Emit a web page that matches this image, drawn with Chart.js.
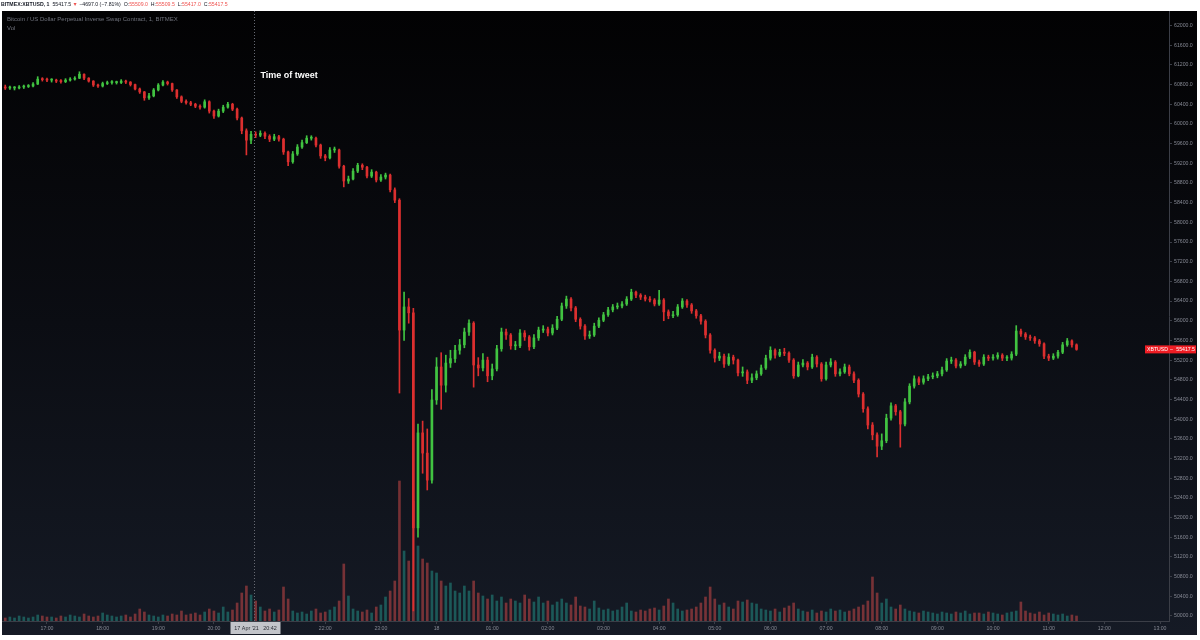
<!DOCTYPE html>
<html>
<head>
<meta charset="utf-8">
<script src="https://cdn.jsdelivr.net/npm/chart.js@4.4.1/dist/chart.umd.min.js"></script>
<style>
  html, body { margin: 0; padding: 0; background: #fff; }
  #wrap { position: relative; width: 1200px; height: 640px; overflow: hidden; }
  #chart { position: absolute; left: 0; top: 0; }
  .tiny { position: absolute; transform: scale(0.5); transform-origin: 0 0; white-space: nowrap;
          font-family: "Liberation Sans", Arial, sans-serif; }
  #hdr { left: 1px; top: 0px; font-size: 10.4px; line-height: 18px; color: #131722; }
  #hdr b { font-weight: bold; }
  #hdr .r { color: #ef5350; }
  #legend { left: 7px; top: 14px; font-size: 12px; line-height: 18px; color: #6f727c; }
</style>
</head>
<body>
<div id="wrap">
  <canvas id="chart" width="1200" height="640"></canvas>
  <div id="hdr" class="tiny"><b>BITMEX:XBTUSD, 1</b>&nbsp; 55417.5 <span class="r">▼</span> −4697.0 (−7.81%)&nbsp; O:<span class="r">55509.0</span>&nbsp; H:<span class="r">55509.5</span>&nbsp; L:<span class="r">55417.0</span>&nbsp; C:<span class="r">55417.5</span></div>
  <div id="legend" class="tiny">Bitcoin / US Dollar Perpetual Inverse Swap Contract, 1, BITMEX<br>Vol</div>
</div>
<script>
// minutes are counted from 17:00 on 17 Apr '21; one candle every 5 minutes from 16:15
const START_MIN = -45;
const STEP_MIN = 5;
const FIRST_OPEN = 60740;
const TWEET_MIN = 222; // 20:42
const TWEET_TEXT = 'Time of tweet';
const CROSS_TEXT = "17 Apr '21   20:42";
const SYMBOL = 'XBTUSD';

const closes = [
  60730,60730,60730,60750,60760,60770,60810,60910,60900,60890,
  60890,60870,60860,60890,60910,60930,61010,60930,60870,60790,
  60770,60820,60840,60840,60840,60870,60850,60800,60710,60650,
  60530,60570,60690,60790,60850,60820,60690,60550,60460,60430,
  60400,60360,60340,60450,60260,60160,60260,60340,60400,60300,
  60120,59860,59670,59790,59770,59810,59750,59690,59740,59690,
  59430,59230,59390,59530,59620,59710,59710,59570,59350,59310,
  59470,59470,59140,58840,58880,59040,59160,59120,58940,59020,
  58860,58920,58960,58660,58450,55810,56280,56160,51790,53720,
  53310,52760,54390,55060,54690,55140,55230,55400,55510,55770,
  55950,55100,55040,55200,54880,55020,55430,55770,55710,55490,
  55490,55750,55670,55470,55650,55810,55830,55750,55850,56030,
  56300,56440,56260,56030,55890,55690,55710,55890,56010,56120,
  56220,56280,56300,56340,56440,56580,56520,56480,56440,56420,
  56340,56420,56180,56100,56120,56280,56400,56320,56200,56100,
  55990,55710,55400,55240,55280,55120,55260,55200,54940,54960,
  54790,54840,54920,55040,55240,55400,55300,55360,55340,55200,
  54880,55100,55140,55060,55260,55120,54820,55100,55160,54920,
  54960,55060,54920,54790,54510,54210,53880,53680,53450,53560,
  54020,54270,54150,53900,54350,54670,54820,54750,54820,54860,
  54880,54920,55000,55180,55200,55080,55120,55260,55360,55160,
  55120,55260,55240,55260,55300,55240,55240,55320,55790,55730,
  55670,55650,55590,55530,55280,55240,55280,55360,55510,55590,
  55510,55417.5
];

const highs = [
  60790,60770,60760,60780,60790,60800,60840,60960,60940,60930,
  60920,60910,60900,60920,60940,60960,61060,61020,60940,60880,
  60810,60850,60870,60880,60870,60900,60890,60860,60810,60730,
  60660,60620,60720,60820,60880,60870,60830,60700,60570,60490,
  60460,60420,60390,60490,60470,60280,60300,60380,60440,60420,
  60320,60140,59900,59850,59840,59860,59840,59780,59790,59770,
  59710,59450,59440,59580,59670,59760,59760,59730,59590,59380,
  59520,59530,59490,59160,58940,59090,59200,59190,59140,59070,
  59040,58970,59000,58980,58700,58480,56580,56450,56250,53900,
  53960,53800,54600,55250,55350,55300,55400,55500,55620,55850,
  56020,55980,55250,55330,55260,55120,55500,55850,55830,55740,
  55580,55820,55800,55700,55720,55870,55900,55870,55920,56090,
  56360,56500,56470,56290,56060,55920,55790,55950,56060,56170,
  56270,56330,56360,56390,56490,56640,56600,56550,56520,56490,
  56450,56620,56450,56220,56190,56330,56450,56430,56350,56230,
  56130,56020,55740,55430,55360,55320,55330,55300,55220,55060,
  55000,54920,54980,55100,55300,55470,55430,55420,55440,55370,
  55230,55160,55210,55170,55320,55290,55150,55160,55230,55190,
  55020,55120,55100,54960,54820,54540,54250,53930,53720,53700,
  54100,54330,54300,54180,54420,54720,54880,54860,54880,54910,
  54940,54970,55060,55230,55260,55230,55170,55310,55410,55380,
  55200,55310,55300,55310,55350,55330,55290,55370,55900,55830,
  55760,55710,55680,55620,55550,55320,55330,55400,55560,55640,
  55610,55530
];

const lows = [
  60700,60700,60690,60710,60720,60740,60750,60800,60870,60860,
  60850,60840,60830,60840,60870,60890,60920,60900,60850,60760,
  60740,60750,60800,60810,60810,60820,60820,60770,60690,60620,
  60480,60500,60550,60670,60770,60790,60660,60520,60430,60400,
  60370,60330,60300,60320,60220,60110,60140,60230,60320,60270,
  60080,59800,59370,59600,59720,59740,59700,59640,59660,59650,
  59380,59150,59200,59360,59500,59600,59670,59530,59300,59250,
  59290,59420,59100,58720,58790,58860,59010,59070,58900,58910,
  58820,58830,58880,58620,58400,54530,55600,55950,50100,51600,
  52900,52560,52700,54300,54200,54550,55050,55150,55320,55450,
  55700,54650,54880,54980,54760,54800,54980,55380,55620,55420,
  55410,55450,55600,55400,55430,55600,55760,55690,55710,55820,
  56000,56250,56200,55980,55830,55620,55640,55680,55860,55980,
  56090,56180,56240,56260,56310,56410,56470,56430,56400,56380,
  56300,56310,56000,56040,56060,56090,56250,56270,56150,56050,
  55930,55650,55340,55160,55190,55050,55090,55120,54880,54870,
  54720,54740,54800,54890,55010,55200,55240,55270,55290,55150,
  54830,54860,55060,55000,55030,55060,54770,54790,55060,54870,
  54880,54930,54880,54740,54450,54140,53800,53580,53230,53380,
  53520,53980,54080,53430,53860,54310,54630,54700,54710,54780,
  54820,54840,54880,54970,55130,55040,55040,55090,55230,55110,
  55070,55090,55190,55200,55220,55190,55190,55200,55290,55680,
  55620,55600,55540,55480,55230,55190,55210,55240,55330,55480,
  55460,55400
];

// volume in millions of contracts
const volumes = [
  3,4,3,5,4,3,4,6,5,4,
  4,3,5,4,6,5,4,7,5,4,
  5,8,6,5,4,5,6,4,7,12,
  9,6,5,4,6,5,7,6,10,6,
  7,8,6,9,12,10,8,14,9,11,
  18,28,35,26,20,14,10,12,9,11,
  34,22,10,8,9,7,10,12,8,9,
  11,14,20,57,25,12,10,9,11,8,
  14,16,24,30,40,140,70,60,120,75,
  62,58,50,48,40,35,38,30,28,35,
  30,40,28,25,22,26,20,24,18,22,
  20,18,26,22,19,24,18,20,16,19,
  22,18,16,24,15,14,12,20,13,11,
  12,10,11,14,18,10,9,11,10,12,
  13,11,15,22,18,12,10,11,12,14,
  18,24,34,22,16,18,14,12,20,19,
  21,18,17,12,11,10,12,9,13,15,
  18,12,10,9,11,8,10,9,12,10,
  11,9,10,12,14,16,20,44,28,18,
  22,14,12,16,12,10,9,8,10,9,
  8,7,9,8,7,9,8,10,7,8,
  8,7,9,8,7,6,8,9,10,19,
  10,8,7,9,6,8,7,6,7,5,
  6,5
];

const hourLabels = ['17:00','18:00','19:00','20:00','21:00','22:00','23:00','18',
  '01:00','02:00','03:00','04:00','05:00','06:00','07:00','08:00','09:00',
  '10:00','11:00','12:00','13:00'];

const priceTicks = [50000,50400,50800,51200,51600,52000,52400,52800,53200,53600,
  54000,54400,54800,55200,55600,56000,56400,56800,57200,57600,58000,58400,
  58800,59200,59600,60000,60400,60800,61200,61600,62000];

const X_RANGE = [-48.5, 1209.7];
const Y_RANGE = [49897, 62295];
const VOL_MAX = 610;

const UP = '#41c341';
const DOWN = '#dc2f2f';
const VOL_UP = 'rgba(38,166,154,0.45)';
const VOL_DOWN = 'rgba(239,83,80,0.45)';
const AXIS = '#3b3e47';
const TICK = '#858893';
const FONT = '"Liberation Sans", Arial, sans-serif';

const times = closes.map((_, i) => START_MIN + i * STEP_MIN);
const opens = closes.map((_, i) => i === 0 ? FIRST_OPEN : closes[i - 1]);
const isUp = closes.map((c, i) => c >= opens[i]);

const panel = {
  id: 'panel',
  beforeDraw(chart) {
    const { ctx, width, height } = chart;
    ctx.save();
    ctx.fillStyle = '#ffffff';
    ctx.fillRect(0, 0, width, height);
    const g = ctx.createLinearGradient(0, 11, 0, 635);
    g.addColorStop(0, '#020203');
    g.addColorStop(0.5, '#0b0d13');
    g.addColorStop(1, '#151a25');
    ctx.fillStyle = g;
    ctx.fillRect(2, 11, 1195, 624);
    ctx.restore();
  },
  afterDraw(chart) {
    const { ctx, chartArea } = chart;
    const xs = chart.scales.x, ys = chart.scales.y;
    const tx = Math.round(xs.getPixelForValue(TWEET_MIN)) + 1.5;
    ctx.save();
    // tweet marker line
    ctx.strokeStyle = '#676a73';
    ctx.lineWidth = 1;
    ctx.setLineDash([1, 2]);
    ctx.beginPath();
    ctx.moveTo(tx, chartArea.top);
    ctx.lineTo(tx, chartArea.bottom + 1);
    ctx.stroke();
    ctx.setLineDash([]);
    ctx.fillStyle = '#ffffff';
    ctx.font = '600 9px ' + FONT;
    ctx.textBaseline = 'middle';
    ctx.fillText(TWEET_TEXT, tx + 6, 76);

    // crosshair time label
    ctx.fillStyle = '#c3c5ca';
    ctx.fillRect(tx - 24, chartArea.bottom + 1, 50, 12);
    ctx.fillStyle = '#2a2c33';
    ctx.font = '5.4px ' + FONT;
    ctx.textAlign = 'center';
    ctx.fillText(CROSS_TEXT, tx + 1, chartArea.bottom + 7.5);

    // last price label
    const last = closes[closes.length - 1];
    const py = ys.getPixelForValue(last);
    const left = chartArea.right - 24, right = chartArea.right + 27;
    ctx.fillStyle = '#ef1d24';
    ctx.fillRect(left, py - 4, right - left, 8);
    ctx.fillStyle = '#ffffff';
    ctx.font = '5.2px ' + FONT;
    ctx.textAlign = 'left';
    ctx.fillText(SYMBOL, left + 2, py + 0.5);
    ctx.fillText('–', chartArea.right + 1, py + 0.5);
    ctx.textAlign = 'right';
    ctx.fillText(last.toFixed(1), right - 1, py + 0.5);
    ctx.restore();
  }
};

new Chart(document.getElementById('chart'), {
  type: 'bar',
  data: {
    datasets: [
      {
        label: 'bodies',
        data: times.map((t, i) => ({ x: t, y: [opens[i], closes[i]] })),
        backgroundColor: isUp.map(u => u ? UP : DOWN),
        barThickness: 2,
        minBarLength: 1,
        grouped: false,
        order: 1
      },
      {
        label: 'wicks',
        data: times.map((t, i) => ({ x: t, y: [lows[i], highs[i]] })),
        backgroundColor: isUp.map(u => u ? UP : DOWN),
        barThickness: 1,
        grouped: false,
        order: 2
      },
      {
        label: 'volume',
        yAxisID: 'yv',
        data: times.map((t, i) => ({ x: t, y: volumes[i] })),
        backgroundColor: isUp.map(u => u ? VOL_UP : VOL_DOWN),
        barThickness: 2,
        grouped: false,
        order: 3
      }
    ]
  },
  options: {
    responsive: false,
    animation: false,
    devicePixelRatio: 1,
    layout: { padding: { left: 2, right: 3, top: 11, bottom: 5 } },
    plugins: { legend: { display: false }, tooltip: { enabled: false } },
    scales: {
      x: {
        type: 'linear',
        min: X_RANGE[0],
        max: X_RANGE[1],
        offset: false,
        grid: { display: true, drawOnChartArea: false, offset: false, tickLength: 3, color: AXIS },
        border: { display: true, color: AXIS },
        afterBuildTicks: s => { s.ticks = hourLabels.map((_, k) => ({ value: k * 60 })); },
        afterFit: s => { s.height = 14; },
        ticks: {
          autoSkip: false,
          maxRotation: 0,
          padding: 1,
          color: TICK,
          font: { family: FONT, size: 5.2 },
          callback: (v, i) => hourLabels[i]
        }
      },
      y: {
        position: 'right',
        min: Y_RANGE[0],
        max: Y_RANGE[1],
        grid: { display: true, drawOnChartArea: false, tickLength: 3, color: AXIS },
        border: { display: true, color: AXIS },
        afterBuildTicks: s => { s.ticks = priceTicks.map(v => ({ value: v })); },
        afterFit: s => { s.width = 28; },
        ticks: {
          autoSkip: false,
          padding: 2,
          color: TICK,
          font: { family: FONT, size: 5.2 },
          callback: v => Number(v).toFixed(1)
        }
      },
      yv: {
        display: false,
        min: 0,
        max: VOL_MAX
      }
    }
  },
  plugins: [panel]
});
</script>
</body>
</html>
